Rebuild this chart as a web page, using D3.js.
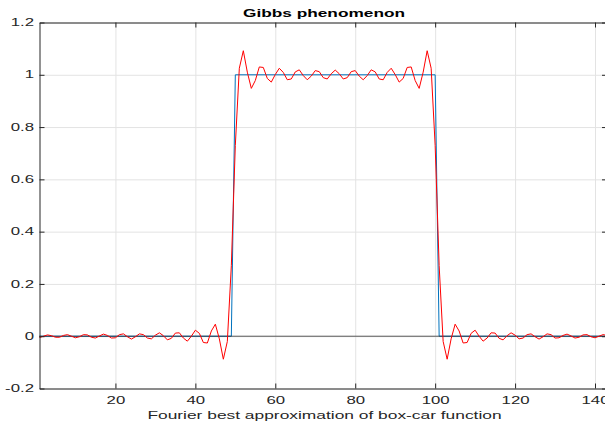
<!DOCTYPE html>
<html>
<head>
<meta charset="utf-8">
<script src="https://cdn.jsdelivr.net/npm/d3@7"></script>
<style>
  body { margin: 0; background: #fff; }
  text { font-family: "Liberation Sans", Arial, Helvetica, sans-serif; fill: #262626; }
</style>
</head>
<body>
<div id="chart"></div>
<script>
'use strict';

var title = "Gibbs phenomenon";
var xLabel = "Fourier best approximation of box-car function";

var xDomain = [1, 143];
var yDomain = [-0.2, 1.2];
var xTicks = [20, 40, 60, 80, 100, 120, 140];
var xTickLabels = ["20", "40", "60", "80", "100", "120", "140"];
var yTicks = [-0.2, 0, 0.2, 0.4, 0.6, 0.8, 1, 1.2];
var yTickLabels = ["-0.2", "0", "0.2", "0.4", "0.6", "0.8", "1", "1.2"];

// box-car function, corner points of the blue line
var boxX = [1, 49, 50, 100, 101, 143];
var boxY = [0, 0, 1, 1, 0, 0];

// fourier approximation, one value per sample 1..143
var approx = [
  -0.005, 0.000, 0.005, 0.002, -0.004, -0.004, 0.003, 0.006, 0.000, -0.006,
  -0.002, 0.006, 0.005, -0.004, -0.007, 0.001, 0.008, 0.003, -0.007, -0.006,
  0.006, 0.009, -0.002, -0.011, -0.002, 0.009, 0.006, -0.007, -0.010, 0.004,
  0.013, 0.002, -0.014, -0.008, 0.012, 0.013, -0.007, -0.019, 0.000, 0.023,
  0.011, -0.024, -0.026, 0.020, 0.046, -0.010, -0.088, -0.020, 0.270,
  0.730, 1.025, 1.092, 1.010, 0.948, 0.978, 1.030, 1.028, 0.986, 0.972,
  1.001, 1.025, 1.009, 0.981, 0.984, 1.011, 1.019, 0.997, 0.981, 0.995,
  1.016, 1.012, 0.989, 0.984, 1.004, 1.018,
  1.004, 0.984, 0.989, 1.012, 1.016,
  0.995, 0.981, 0.997, 1.019, 1.011, 0.984, 0.981, 1.009, 1.025, 1.001,
  0.972, 0.986, 1.028, 1.030, 0.978, 0.948, 1.010, 1.092, 1.025, 0.730,
  0.270, -0.020, -0.088, -0.010, 0.046, 0.020, -0.026, -0.024, 0.011, 0.023,
  0.000, -0.019, -0.007, 0.013, 0.012, -0.008, -0.014, 0.002, 0.013, 0.004,
  -0.010, -0.007, 0.006, 0.009, -0.002, -0.011, -0.002, 0.009, 0.006, -0.007,
  -0.006, 0.003, 0.008, 0.001, -0.007, -0.004, 0.005, 0.006, -0.002, -0.006,
  0.000, 0.006, 0.003
];

var width = 605, height = 422;
var margin = {left: 39.5, right: 607, top: 22.5, bottom: 388.5};

var svg = d3.select("#chart").append("svg")
  .attr("width", width)
  .attr("height", height)
  .style("display", "block");

var x = d3.scaleLinear().domain(xDomain).range([margin.left, margin.right]),
  y = d3.scaleLinear().domain(yDomain).range([margin.bottom, margin.top]);

// grid
svg.append("g")
  .attr("class", "grid")
  .attr("transform", "translate(0," + margin.bottom + ")")
  .call(d3.axisBottom(x).tickValues(xTicks).tickSize(-(margin.bottom - margin.top)).tickFormat(""))
  .call(g => g.select(".domain").remove());
svg.append("g")
  .attr("class", "grid")
  .attr("transform", "translate(" + margin.left + ",0)")
  .call(d3.axisLeft(y).tickValues(yTicks).tickSize(-(margin.right - margin.left)).tickFormat(""))
  .call(g => g.select(".domain").remove());
svg.selectAll(".grid line").attr("stroke", "#e3e3e3");

// lines
var line = d3.line()
  .x(d => x(d[0]))
  .y(d => y(d[1]));

svg.append("path")
  .datum(boxX.map((v, i) => [v, boxY[i]]))
  .attr("fill", "none")
  .attr("stroke", "#0072bd")
  .attr("stroke-width", 1)
  .attr("d", line);

svg.append("path")
  .datum([[xDomain[0], 0], [xDomain[1], 0]])
  .attr("fill", "none")
  .attr("stroke", "#262626")
  .attr("stroke-opacity", 0.75)
  .attr("stroke-width", 1)
  .attr("d", line);

svg.append("path")
  .datum(approx.map((v, i) => [i + 1, v]))
  .attr("fill", "none")
  .attr("stroke", "#ff0000")
  .attr("stroke-width", 1)
  .attr("d", line);

// box axes, inward ticks
var axes = [
  [d3.axisBottom(x).tickValues(xTicks), "translate(0," + margin.bottom + ")"],
  [d3.axisTop(x).tickValues(xTicks), "translate(0," + margin.top + ")"],
  [d3.axisLeft(y).tickValues(yTicks), "translate(" + margin.left + ",0)"],
  [d3.axisRight(y).tickValues(yTicks), "translate(" + margin.right + ",0)"]
];
axes.forEach(function(a){
  svg.append("g")
    .attr("class", "axis")
    .attr("transform", a[1])
    .call(a[0].tickSizeInner(-5).tickSizeOuter(0).tickFormat(""));
});
svg.selectAll(".axis path, .axis line").attr("stroke", "#262626");

// labels (the picture is stretched sideways, so the text is too)
function label(tx, ty, str, anchor, size, sx, weight){
  return svg.append("text")
    .attr("transform", "translate(" + tx + "," + ty + ") scale(" + sx + ",1)")
    .attr("text-anchor", anchor)
    .style("font-size", size + "px")
    .style("font-weight", weight || "normal")
    .text(str);
}

xTicks.forEach(function(t, i){
  label(x(t) + 0.5, 404, xTickLabels[i], "middle", 10.5, 1.6);
});
yTicks.forEach(function(t, i){
  label(34, y(t) + 3.7, yTickLabels[i], "end", 10.5, 1.6);
});

label(324, 17.3, title, "middle", 11, 1.57, "bold").style("fill", "#000");
label(324.5, 419, xLabel, "middle", 11, 1.58);
</script>
</body>
</html>
